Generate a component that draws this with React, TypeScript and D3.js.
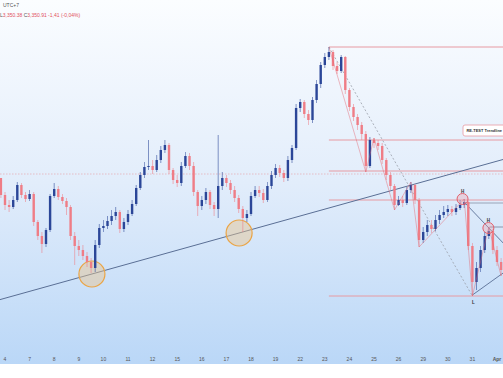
import React from 'react';
import * as d3 from 'd3';

const W = 503, H = 378;

const dayLabels = ['4','7','8','9','10','11','12','15','16','17','18','19','22','23','24','25','26','29','30','31','Apr'];
const candlesPerDay = 6;
const firstOpen = 3472;
const closes = [3455,3445,3443,3450,3465,3455,3451,3456,3428,3414,3406,3420,3454,3461,3453,3449,3443,3414,3404,3400,
  3394,3388,3382,3405,3422,3424,3429,3434,3438,3421,3428,3436,3446,3462,3475,3483,3484,3480,3490,3500,
  3505,3480,3470,3467,3484,3494,3484,3458,3444,3450,3458,3445,3441,3464,3472,3467,3460,3452,3441,3432,
  3436,3454,3460,3457,3450,3464,3475,3482,3477,3472,3490,3502,3542,3548,3536,3530,3550,3566,3585,3593,
  3598,3584,3579,3593,3560,3543,3533,3525,3516,3484,3510,3507,3504,3490,3475,3464,3445,3450,3447,3460,
  3465,3450,3410,3418,3425,3421,3430,3435,3438,3441,3438,3442,3445,3448,3404,3368,3382,3400,3414,3419,
  3400,3388,3380];
const highs = [3472,3458,3450,3454,3468,3467,3458,3460,3458,3430,3418,3422,3456,3467,3464,3456,3452,3445,3418,3410,
  3405,3398,3392,3410,3426,3430,3434,3440,3443,3440,3432,3440,3450,3465,3478,3488,3510,3490,3495,3504,
  3510,3507,3482,3475,3488,3498,3497,3488,3460,3454,3462,3460,3448,3515,3478,3475,3470,3464,3455,3444,
  3440,3458,3464,3464,3461,3468,3479,3486,3485,3480,3494,3505,3546,3551,3550,3540,3553,3570,3588,3597,
  3603,3600,3588,3595,3594,3562,3546,3536,3528,3519,3513,3512,3510,3507,3492,3478,3466,3454,3454,3463,
  3468,3466,3452,3423,3430,3430,3435,3440,3444,3445,3444,3446,3450,3451,3449,3407,3388,3404,3418,3423,
  3421,3404,3392];
const lows = [3452,3440,3438,3441,3448,3452,3448,3449,3424,3410,3397,3403,3418,3452,3450,3446,3435,3410,3385,3394,
  3390,3383,3377,3378,3402,3418,3421,3425,3430,3417,3418,3425,3434,3444,3460,3472,3480,3476,3478,3487,
  3497,3476,3466,3463,3464,3482,3480,3454,3434,3440,3446,3441,3434,3432,3460,3463,3456,3448,3437,3418,
  3428,3434,3452,3453,3447,3448,3461,3472,3473,3468,3469,3487,3500,3538,3532,3525,3527,3547,3562,3582,
  3590,3580,3576,3577,3556,3539,3529,3520,3510,3478,3482,3502,3500,3486,3470,3460,3440,3444,3443,3445,
  3457,3446,3403,3407,3414,3417,3419,3426,3432,3434,3434,3435,3440,3442,3400,3354,3360,3378,3397,3411,
  3396,3384,3374];

// drawn annotations (candle index, price)
const levelPrices = [3603, 3510, 3479, 3450, 3354];
const levelStart = 80;
const dottedLevel = 3476;
const touchCircles = [[22.2, 3376], [58.1, 3417]];
const dashedLine = [[80, 3603], [115, 3354]];
const zigzag = [[80,3603],[89,3478],[91,3512],[96,3440],[100,3468],[102,3403],[113,3451],[115,3354],[119,3423],[122,3374]];
const highMarks = [[112.6, 3451, 'H'], [118.9, 3422, 'H']];
const lowMark = [115, 3354, 'L'];
const patternLines = [[[113.2, 3447], [122.5, 3407]], [[115, 3355], [122.5, 3377]]];
const patternLevels = [[113.2, 3447], [119.2, 3423]];

export default function App() {
  const n = closes.length;
  const x = d3.scaleLinear().domain([0, n - 1]).range([0.9, 501.1]);
  const y = d3.scaleLinear().domain([3272, 3650]).range([378, 0]);
  const candles = closes.map((c, i) => {
    const o = i === 0 ? firstOpen : closes[i - 1];
    return { i, o, c, h: Math.max(highs[i], o, c), l: Math.min(lows[i], o, c) };
  });
  const bull = '#2b4698', bear = '#ef7d86';
  const bw = 2.4;
  const [a, b] = touchCircles;
  const slope = (b[1] - a[1]) / (b[0] - a[0]);
  const tAt = (i: number) => a[1] + slope * (i - a[0]);
  const iL = x.invert(0), iR = x.invert(W);
  const line = d3.line<number[]>().x(d => x(d[0])).y(d => y(d[1]));
  const font = 'Liberation Sans, Arial, sans-serif';

  return (
    <svg width={W} height={H} style={{ position: 'absolute', left: 0, top: 0 }} fontFamily={font}>
      <defs>
        <linearGradient id="bg" x1="0" y1="0" x2="0" y2="1">
          <stop offset="0" stopColor="#fbfdff" />
          <stop offset="0.5" stopColor="#e2edfb" />
          <stop offset="1" stopColor="#bad7f7" />
        </linearGradient>
      </defs>
      <rect x={0} y={0} width={W} height={H} fill="#ffffff" />
      <rect x={0} y={0} width={W} height={364} fill="url(#bg)" />

      <text x={3} y={7} fontSize={5} fill="#555">UTC+7</text>
      <text x={0} y={16.5} fontSize={5} fill="#e2505c">
        <tspan fill="#555">L</tspan>3,350.38 <tspan fill="#555">C</tspan>3,350.91 -1,41 (-0,04%)
      </text>

      <line x1={0} x2={W} y1={y(dottedLevel)} y2={y(dottedLevel)} stroke="#e9a3aa" strokeWidth={0.8} strokeDasharray="1.5,1.5" opacity={0.8} />
      {levelPrices.map((p, k) => (
        <line key={k} x1={x(levelStart)} x2={W} y1={y(p)} y2={y(p)} stroke="#e79aa2" strokeWidth={1} />
      ))}

      <line x1={x(iL)} y1={y(tAt(iL))} x2={x(iR)} y2={y(tAt(iR))} stroke="#5a6f95" strokeWidth={1} />
      <path d={line(dashedLine as number[][]) || ''} stroke="#9aa0aa" strokeWidth={0.8} strokeDasharray="2,2" fill="none" />

      {patternLines.map((pl, k) => (
        <path key={k} d={line(pl as number[][]) || ''} stroke="#5a6f95" strokeWidth={0.9} fill="none" />
      ))}
      {patternLevels.map((p, k) => (
        <line key={k} x1={x(p[0])} x2={W} y1={y(p[1])} y2={y(p[1])} stroke="#9aa3b8" strokeWidth={1.2} />
      ))}

      {touchCircles.map((c, k) => (
        <circle key={k} cx={x(c[0])} cy={y(c[1])} r={13} fill="#e8c48c" fillOpacity={0.45} stroke="#eaa445" strokeWidth={1.2} />
      ))}

      {candles.map(d => {
        const col = d.c >= d.o ? bull : bear;
        const top = y(Math.max(d.o, d.c)), bot = y(Math.min(d.o, d.c));
        return (
          <g key={d.i}>
            <line x1={x(d.i)} x2={x(d.i)} y1={y(d.h)} y2={y(d.l)} stroke={col} strokeWidth={0.8} opacity={0.7} />
            <rect x={x(d.i) - bw / 2} y={top} width={bw} height={Math.max(0.8, bot - top)} fill={col} />
          </g>
        );
      })}

      <path d={line(zigzag as number[][]) || ''} stroke="#e4606b" strokeWidth={0.8} fill="none" opacity={0.55} />

      {highMarks.map((m, k) => (
        <g key={k}>
          <circle cx={x(m[0] as number)} cy={y(m[1] as number)} r={5.5} fill="#f2a0a8" fillOpacity={0.35} stroke="#e2606c" strokeWidth={1} />
          <text x={x(m[0] as number)} y={y(m[1] as number) - 6} fontSize={4.5} fontWeight="bold" fill="#333" textAnchor="middle">{m[2]}</text>
        </g>
      ))}
      <text x={x(lowMark[0] as number) + 1} y={y(lowMark[1] as number) + 8} fontSize={4.5} fontWeight="bold" fill="#333" textAnchor="middle">{lowMark[2]}</text>

      <rect x={463} y={125} width={50} height={11} rx={2} fill="#ffffff" stroke="#e79aa2" strokeWidth={0.8} />
      <text x={466.5} y={132.2} fontSize={4.2} fontWeight="bold" fill="#333" textLength={35.5} lengthAdjust="spacingAndGlyphs">RE-TEST Trendline</text>

      {dayLabels.map((d, k) => (
        <text key={k} x={x(k * candlesPerDay + 1)} y={360.5} fontSize={5} fill="#555" textAnchor="middle" fontWeight={d === 'Apr' ? 'bold' : 'normal'}>{d}</text>
      ))}
    </svg>
  );
}
